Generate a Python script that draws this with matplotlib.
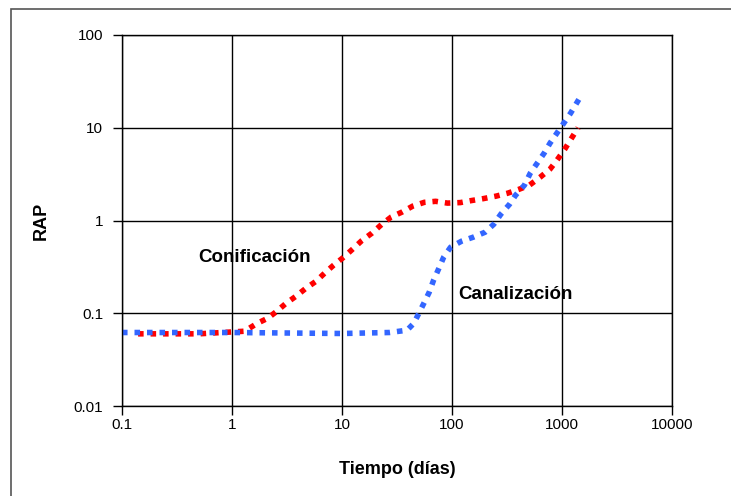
import matplotlib
matplotlib.use("Agg")
import matplotlib.pyplot as plt
from matplotlib.patches import Rectangle
from matplotlib.ticker import FixedLocator, FixedFormatter, NullLocator

plt.rcParams['font.family'] = ['Liberation Sans', 'DejaVu Sans']

# water-oil ratio vs time, coning and channeling
t_con = [0.14, 0.5, 1.3, 1.7, 2.1, 2.5, 3.1, 3.8, 4.7, 5.8, 7.1, 8.4, 10.3, 12.7,
         15.2, 18.7, 23, 28, 35, 44, 56, 71, 91, 119, 150, 192, 251, 321, 411,
         505, 633, 778, 900, 1060, 1220, 1400]
rap_con = [0.060, 0.060, 0.064, 0.078, 0.088, 0.103, 0.128, 0.152, 0.186, 0.221,
           0.277, 0.33, 0.40, 0.50, 0.61, 0.73, 0.91, 1.09, 1.23, 1.43, 1.57,
           1.61, 1.54, 1.56, 1.64, 1.72, 1.83, 1.97, 2.18, 2.40, 2.93, 3.58,
           4.47, 5.88, 7.7, 10.0]

t_can = [0.1, 1, 10, 27, 39, 45, 50, 56, 62, 68, 76, 84, 97, 122, 156, 200, 240,
         278, 334, 378, 455, 515, 595, 688, 778, 899, 1038, 1199, 1443]
rap_can = [0.062, 0.062, 0.0605, 0.062, 0.0656, 0.078, 0.100, 0.131, 0.168,
           0.227, 0.305, 0.402, 0.515, 0.598, 0.661, 0.748, 0.912, 1.17, 1.50,
           1.87, 2.40, 3.24, 4.15, 5.32, 6.82, 8.75, 11.2, 14.4, 20.8]

x_ticks = [0.1, 1, 10, 100, 1000, 10000]
x_labels = ['0.1', '1', '10', '100', '1000', '10000']
y_ticks = [0.01, 0.1, 1, 10, 100]
y_labels = ['0.01', '0.1', '1', '10', '100']

W, H = 731, 496
fig = plt.figure(figsize=(W / 100, H / 100), dpi=100)
ax = fig.add_axes([122 / W, (H - 406) / H, 550 / W, 371 / H])

# chart frame
fig.patches.append(Rectangle((11 / W, -0.2), 1.2, (H - 9) / H + 0.2,
                             transform=fig.transFigure, fill=False,
                             edgecolor='#555555', linewidth=1.2))

ax.plot(t_con, rap_con, color='#FF0000', linewidth=4,
        linestyle=(0, (1, 1.25)), dash_capstyle='butt')
ax.plot(t_can, rap_can, color='#3366FF', linewidth=4,
        linestyle=(0, (1, 1.25)), dash_capstyle='butt')

ax.set_xscale('log')
ax.set_yscale('log')
ax.set_xlim(0.1, 10000)
ax.set_ylim(0.01, 100)
ax.xaxis.set_major_locator(FixedLocator(x_ticks))
ax.xaxis.set_major_formatter(FixedFormatter(x_labels))
ax.yaxis.set_major_locator(FixedLocator(y_ticks))
ax.yaxis.set_major_formatter(FixedFormatter(y_labels))
ax.xaxis.set_minor_locator(NullLocator())
ax.yaxis.set_minor_locator(NullLocator())

ax.grid(True, color='black', linewidth=1)
ax.set_axisbelow(True)
for s in ax.spines.values():
    s.set_color('black')
    s.set_linewidth(1)
ax.tick_params(direction='out', length=6.5, width=1, labelsize=11)
ax.tick_params(axis='x', pad=2)
ax.tick_params(axis='y', pad=7)

ax.set_xlabel('Tiempo (días)', fontsize=13, fontweight='bold', labelpad=21)
ax.set_ylabel('RAP', fontsize=13, fontweight='bold', labelpad=17)

ax.text(1.6, 0.40, 'Conificación', fontsize=13.5, fontweight='bold',
        ha='center', va='center')
ax.text(380, 0.16, 'Canalización', fontsize=13.5, fontweight='bold',
        ha='center', va='center')

fig.savefig('out.png', dpi=100)
